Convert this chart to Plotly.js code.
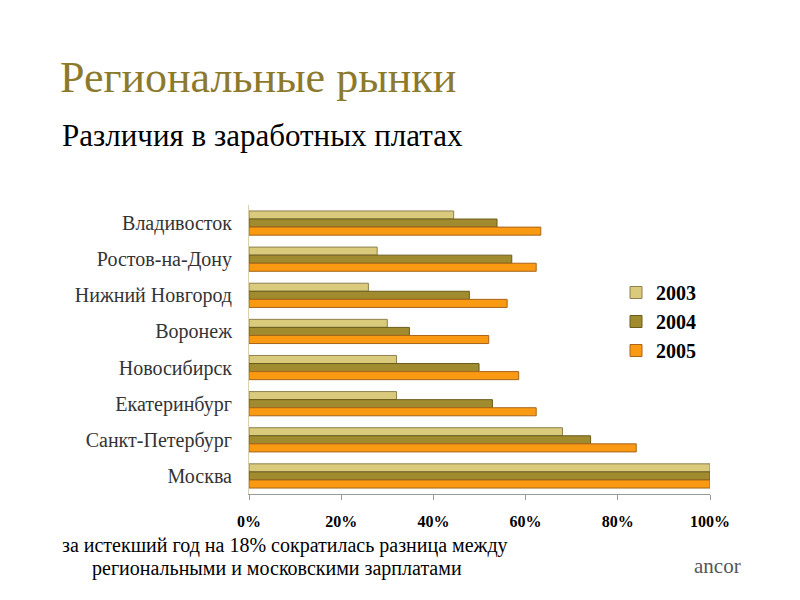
<!DOCTYPE html>
<html>
<head>
<meta charset="utf-8">
<script src="https://cdn.plot.ly/plotly-3.0.1.min.js"></script>
<style>html,body{margin:0;padding:0;background:#fff;}#chart{width:800px;height:600px;}</style>
</head>
<body>
<div id="chart"></div>
<script>
const cities = ['Владивосток','Ростов-на-Дону','Нижний Новгород','Воронеж','Новосибирск','Екатеринбург','Санкт-Петербург','Москва'];
const years = ['2003','2004','2005'];
const v2003 = [44.4, 27.8, 25.9, 30.0, 32.0, 32.0, 68.0, 100];
const v2004 = [53.8, 57.0, 47.8, 34.8, 49.9, 52.8, 74.1, 100];
const v2005 = [63.3, 62.3, 56.0, 52.0, 58.5, 62.3, 84.0, 100];
const tickVals = [0, 20, 40, 60, 80, 100];
const tickText = ['0%','20%','40%','60%','80%','100%'];

const series = [v2003, v2004, v2005];
const fills = ['#D9CA7C', '#A08C2E', '#FA9A12'];
const edges = ['#8E8050', '#6A5C1E', '#A8641A'];
const SERIF = '"Liberation Serif", "Times New Roman", Times, serif';

const traces = years.map((y, i) => ({
  type: 'bar', orientation: 'h', name: y,
  y: cities, x: series[i],
  marker: {color: fills[i], line: {color: edges[i], width: 1}},
  hoverinfo: 'x+y+name'
}));

const L = 249, R = 710, T = 205, B = 494;
const W = 800, H = 600;
const px = x => (x - L) / (R - L);
const py = y => (B - y) / (B - T);

const layout = {
  width: W, height: H,
  paper_bgcolor: '#fff', plot_bgcolor: '#fff',
  margin: {l: L, r: W - R, t: T, b: H - B, pad: 0},
  barmode: 'group', bargap: 0.33, bargroupgap: 0,
  showlegend: true,
  title: {
    text: 'Региональные рынки',
    font: {family: SERIF, size: 44, color: '#8C7A2C'},
    x: 60 / W, xanchor: 'left', xref: 'container',
    y: 1 - 77 / H, yanchor: 'middle', yref: 'container'
  },
  xaxis: {
    range: [0, 100], tickvals: tickVals, ticktext: tickText,
    showgrid: false, zeroline: false,
    showline: true, linecolor: '#9a9a9a', linewidth: 1,
    ticks: 'outside', ticklen: 5, tickcolor: '#9a9a9a',
    ticklabelstandoff: 8,
    tickfont: {family: SERIF, size: 16, color: '#000', weight: 'bold'},
    fixedrange: true
  },
  yaxis: {
    type: 'category', autorange: 'reversed',
    showgrid: false, zeroline: false,
    showline: true, linecolor: '#d8d0b0', linewidth: 1,
    ticks: '', ticklabelstandoff: 12,
    tickfont: {family: SERIF, size: 20, color: '#333'},
    fixedrange: true
  },
  legend: {
    x: px(616), y: py(273), xanchor: 'left', yanchor: 'top',
    font: {family: SERIF, size: 20, color: '#000', weight: 'bold'},
    bgcolor: 'rgba(0,0,0,0)', itemclick: false, itemdoubleclick: false,
    tracegroupgap: 0
  },
  annotations: [
    {
      text: 'Различия в заработных платах', xref: 'paper', yref: 'paper',
      x: px(60), y: py(135), xanchor: 'left', yanchor: 'middle', showarrow: false,
      font: {family: SERIF, size: 31, color: '#000'}
    },
    {
      text: 'за истекший год на 18% сократилась разница между', xref: 'paper', yref: 'paper',
      x: px(60), y: py(545), xanchor: 'left', yanchor: 'middle', showarrow: false,
      font: {family: SERIF, size: 20, color: '#000'}
    },
    {
      text: 'региональными и московскими зарплатами', xref: 'paper', yref: 'paper',
      x: px(90), y: py(568), xanchor: 'left', yanchor: 'middle', showarrow: false,
      font: {family: SERIF, size: 20, color: '#000'}
    },
    {
      text: 'ancor', xref: 'paper', yref: 'paper',
      x: px(692), y: py(566), xanchor: 'left', yanchor: 'middle', showarrow: false,
      font: {family: SERIF, size: 21, color: '#555'}
    }
  ]
};

Plotly.newPlot('chart', traces, layout, {displayModeBar: false});
</script>
</body>
</html>
